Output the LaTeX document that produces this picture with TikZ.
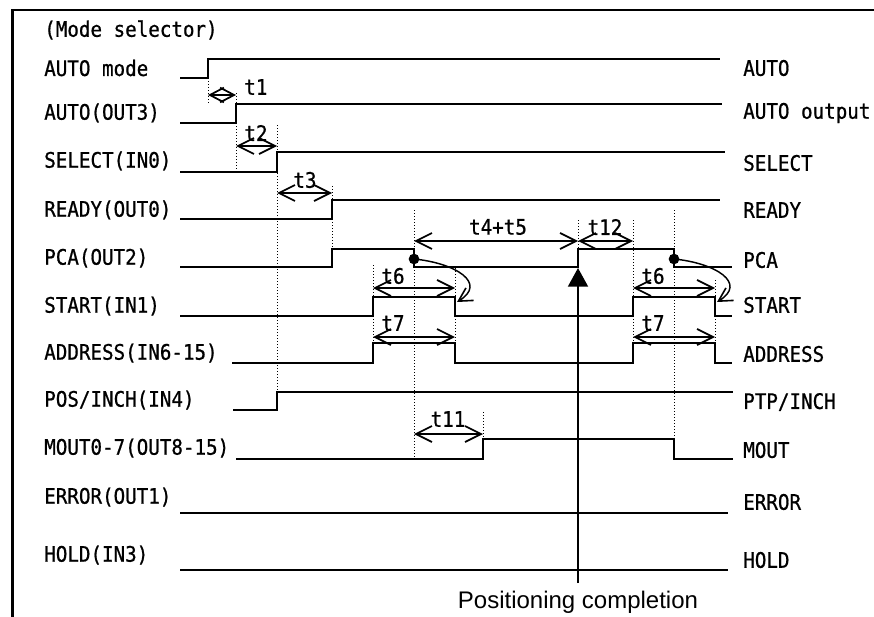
\documentclass[tikz,border=0pt]{standalone}
\usepackage{fontspec}
\newfontfamily\lblfont[FakeStretch=0.9,FakeBold=0.8]{DejaVu Sans Mono}
\newfontfamily\capfont{Liberation Sans}
\usetikzlibrary{arrows.meta}
\begin{document}
\begin{tikzpicture}[x=0.75pt,y=-0.75pt,
  sig/.style={line width=1.4pt},
  dotv/.style={line width=0.7pt, dash pattern=on 0.75pt off 1.5pt},
  barb/.tip={Straight Barb[length=12pt,width=12pt,line width=1.3pt]},
  smallbarb/.tip={Straight Barb[length=10.5pt,width=11pt,line width=1.3pt]},
  dim/.style={line width=1.2pt, barb-barb},
  lbl/.style={font=\lblfont\fontsize{16}{19}\selectfont, inner sep=0pt, anchor=west},
  tlbl/.style={font=\lblfont\fontsize{16}{19}\selectfont, inner sep=0pt},
]
\useasboundingbox (0,0) rectangle (874,617);
% frame
\draw[line width=2.2pt] (874,10) -- (12.7,10) -- (12.7,617);

% left labels
\node[lbl] (mode) at (44,30) {(Mode selector)};
\node[lbl] (l1) at (44,68) {AUTO mode};
\node[lbl] (l2) at (44,113) {AUTO(OUT3)};
\node[lbl] (l3) at (44,161) {SELECT(IN0)};
\node[lbl] (l4) at (44,210) {READY(OUT0)};
\node[lbl] (l5) at (44,258) {PCA(OUT2)};
\node[lbl] (l6) at (44,306) {START(IN1)};
\node[lbl] (l7) at (44,353) {ADDRESS(IN6-15)};
\node[lbl] (l8) at (44,400) {POS/INCH(IN4)};
\node[lbl] (l9) at (44,448) {MOUT0-7(OUT8-15)};
\node[lbl] (l10) at (44,497) {ERROR(OUT1)};
\node[lbl] (l11) at (44,555) {HOLD(IN3)};

% right labels
\node[lbl] (r1) at (743,68) {AUTO};
\node[lbl] (r2) at (743,113) {AUTO output};
\node[lbl] (r3) at (743,163) {SELECT};
\node[lbl] (r4) at (743,210) {READY};
\node[lbl] (r5) at (743,260) {PCA};
\node[lbl] (r6) at (743,305) {START};
\node[lbl] (r7) at (743,354) {ADDRESS};
\node[lbl] (r8) at (743,402) {PTP/INCH};
\node[lbl] (r9) at (743,450) {MOUT};
\node[lbl] (r10) at (743,502) {ERROR};
\node[lbl] (r11) at (743,560) {HOLD};

% dotted guides
\draw[dotv] (208,78) -- (208,104);
\draw[dotv] (236,93) -- (236,172);
\draw[dotv] (277,125) -- (277,410);
\draw[dotv] (332,186) -- (332,249);
\draw[dotv] (373,265) -- (373,363);
\draw[dotv] (414,210) -- (414,459);
\draw[dotv] (455,268) -- (455,363);
\draw[dotv] (483,412) -- (483,439);
\draw[dotv] (578,220) -- (578,267);
\draw[dotv] (633,220) -- (633,363);
\draw[dotv] (674,210) -- (674,459);
\draw[dotv] (715,280) -- (715,363);

% waveforms
\draw[sig] (180,78) -- (208,78) -- (208,59) -- (720,59);
\draw[sig] (180,123) -- (236,123) -- (236,104) -- (722,104);
\draw[sig] (180,172) -- (277,172) -- (277,152) -- (725,152);
\draw[sig] (180,219) -- (332,219) -- (332,200) -- (720,200);
\draw[sig] (180,267) -- (332,267) -- (332,249) -- (414,249) -- (414,267) -- (578,267) -- (578,249) -- (674,249) -- (674,267) -- (732,267);
\draw[sig] (180,316) -- (373,316) -- (373,297) -- (455,297) -- (455,316) -- (633,316) -- (633,297) -- (715,297) -- (715,316) -- (732,316);
\draw[sig] (232,363) -- (373,363) -- (373,343) -- (455,343) -- (455,363) -- (633,363) -- (633,343) -- (715,343) -- (715,363) -- (732,363);
\draw[sig] (233,410) -- (277,410) -- (277,392) -- (733,392);
\draw[sig] (236,459) -- (483,459) -- (483,439) -- (674,439) -- (674,459) -- (733,459);
\draw[sig] (180,513) -- (728,513);
\draw[sig] (180,570) -- (728,570);

% dimension arrows
\draw[line width=1.2pt, smallbarb-smallbarb] (208,95) -- (236,95);
\node[tlbl,anchor=west] (t1) at (244,87) {t1};
\draw[dim] (236,146) -- (277,146);
\node[tlbl] (t2) at (256,133) {t2};
\draw[dim] (277,193) -- (332,193);
\node[tlbl] (t3) at (305,180) {t3};
\draw[dim] (414,241) -- (578,241);
\node[tlbl] (t45) at (498,227) {t4+t5};
\draw[dim] (578,241) -- (633,241);
\node[tlbl] (t12) at (605,227) {t12};
\draw[dim] (373,288) -- (455,288);
\node[tlbl] (t6a) at (393,276) {t6};
\draw[dim] (633,288) -- (715,288);
\node[tlbl] (t6b) at (653,276) {t6};
\draw[dim] (373,337) -- (455,337);
\node[tlbl] (t7a) at (393,323) {t7};
\draw[dim] (633,337) -- (715,337);
\node[tlbl] (t7b) at (653,323) {t7};
\draw[dim] (414,434) -- (483,434);
\node[tlbl] (t11) at (448,419) {t11};

% dots and curved arrows
\fill (414,259) circle[radius=4pt];
\fill (674,259) circle[radius=4pt];
\draw[line width=1.1pt, -{Straight Barb[length=10pt,width=11pt,line width=1.2pt]}] (414,259) .. controls (455,263) and (488,283) .. (457,302);
\draw[line width=1.1pt, -{Straight Barb[length=10pt,width=11pt,line width=1.2pt]}] (674,259) .. controls (715,263) and (748,283) .. (717,302);

% positioning completion
\draw[line width=1.4pt, -{Triangle[length=14pt,width=15pt]}] (578,583) -- (578,268);
\node[font=\capfont\fontsize{18}{21}\selectfont, inner sep=0pt] (pc) at (578,602) {Positioning completion};
\end{tikzpicture}
\end{document}
